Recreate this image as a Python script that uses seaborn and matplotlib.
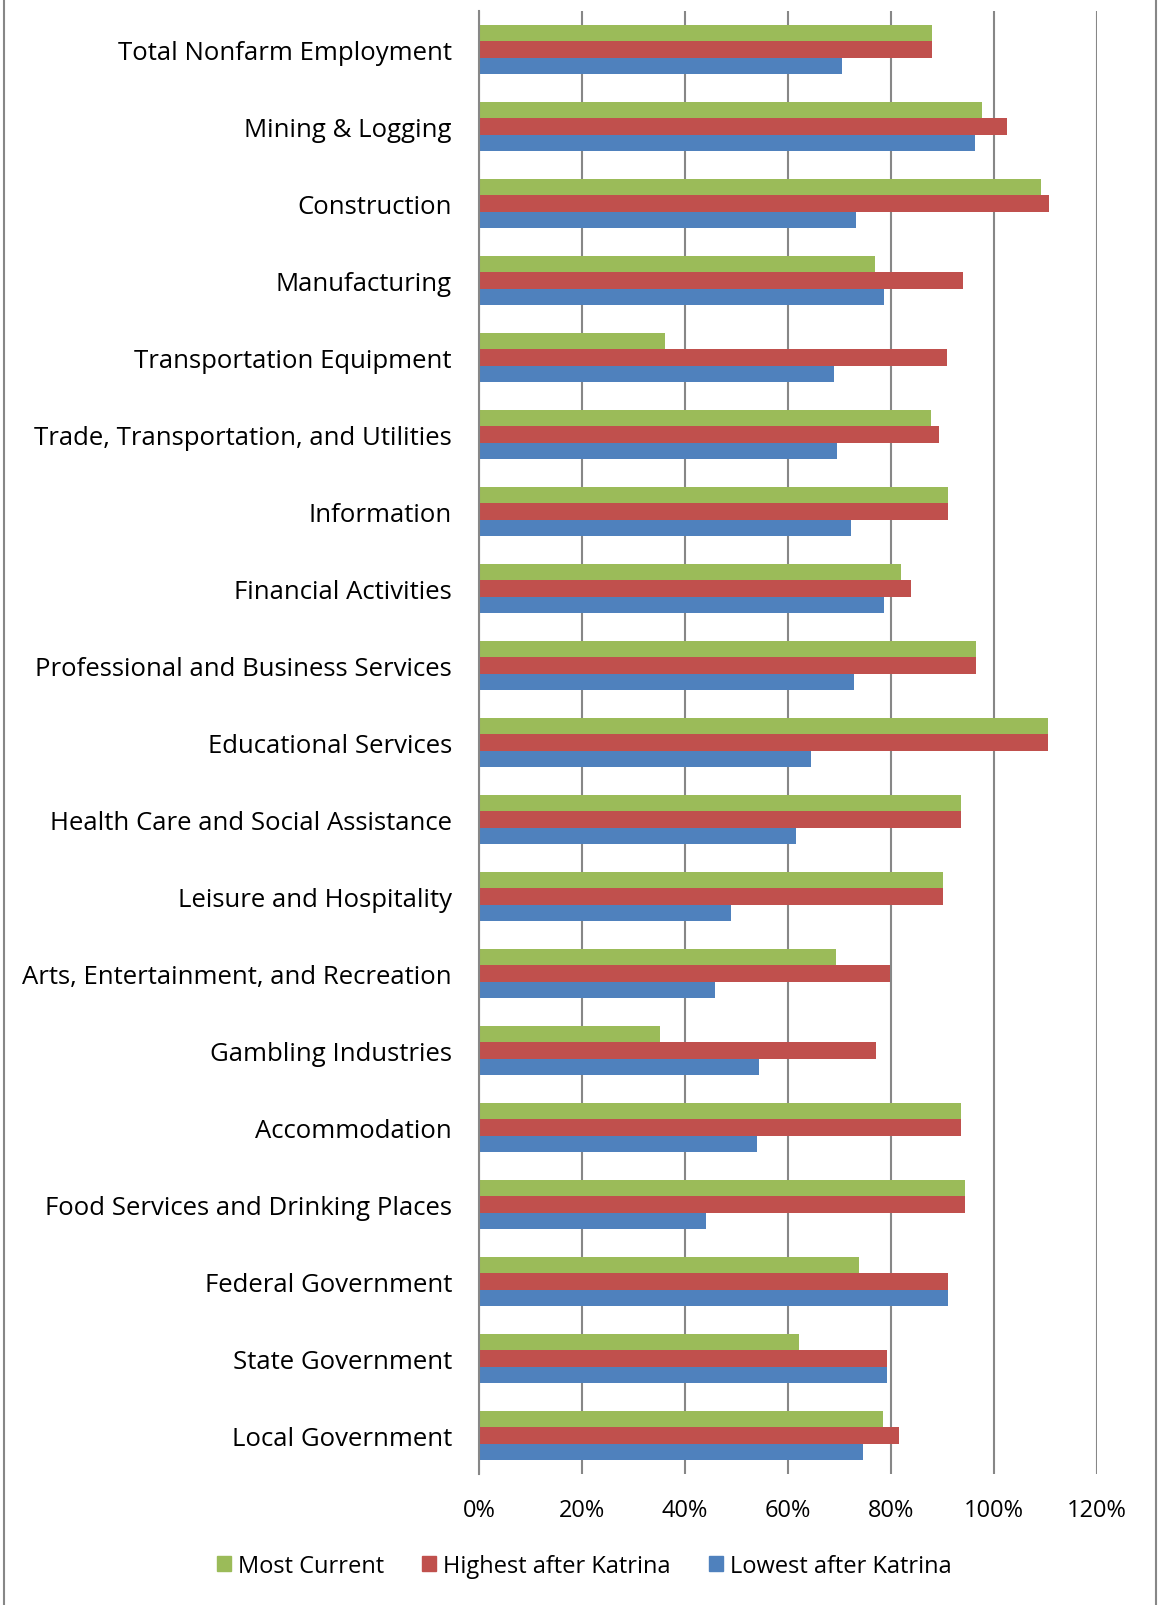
import matplotlib
matplotlib.use('Agg')
import matplotlib.pyplot as plt
import matplotlib.patches as mpatches
import matplotlib.ticker as mticker
import pandas as pd
import seaborn as sns

sns.set_style('white')
plt.rcParams['font.family'] = ['Open Sans', 'DejaVu Sans']
plt.rcParams['text.color'] = 'black'

categories = [
    'Total Nonfarm Employment', 'Mining & Logging', 'Construction', 'Manufacturing',
    'Transportation Equipment', 'Trade, Transportation, and Utilities', 'Information',
    'Financial Activities', 'Professional and Business Services', 'Educational Services',
    'Health Care and Social Assistance', 'Leisure and Hospitality',
    'Arts, Entertainment, and Recreation', 'Gambling Industries', 'Accommodation',
    'Food Services and Drinking Places', 'Federal Government', 'State Government',
    'Local Government',
]
series_names = ['Most Current', 'Highest after Katrina', 'Lowest after Katrina']
most_current = [88.0, 97.6, 109.2, 76.9, 36.1, 87.8, 91.0, 81.9, 96.6, 110.4,
                93.6, 90.0, 69.3, 35.1, 93.6, 94.4, 73.7, 62.2, 78.5]
highest = [88.0, 102.6, 110.6, 94.0, 90.8, 89.4, 91.0, 83.9, 96.6, 110.4,
           93.6, 90.0, 79.9, 77.1, 93.6, 94.4, 91.0, 79.3, 81.5]
lowest = [70.5, 96.4, 73.3, 78.7, 68.9, 69.5, 72.3, 78.7, 72.9, 64.5,
          61.6, 49.0, 45.8, 54.4, 54.0, 44.0, 91.0, 79.3, 74.5]
colors = ['#9BBB59', '#C0504D', '#4F81BD']

rows = []
for name, vals in zip(series_names, [most_current, highest, lowest]):
    for cat, v in zip(categories, vals):
        rows.append({'category': cat, 'series': name, 'value': v})
df = pd.DataFrame(rows)

fig = plt.figure(figsize=(11.59, 16.06), dpi=100)
ax = fig.add_axes([479 / 1159, 1 - 1475 / 1606, 618 / 1159, 1463 / 1606])

sns.barplot(data=df, y='category', x='value', hue='series', order=categories,
            hue_order=series_names, palette=colors, orient='h', width=0.64,
            saturation=1, linewidth=0, ax=ax, legend=False)

ax.set_xlim(0, 120)
ax.xaxis.set_major_locator(mticker.MultipleLocator(20))
ax.xaxis.set_major_formatter(mticker.FuncFormatter(lambda v, p: f'{int(v)}%'))
ax.grid(axis='x', color='#878787', linewidth=1.5)
ax.grid(axis='y', visible=False)
ax.set_axisbelow(True)
for s in ['top', 'right', 'bottom']:
    ax.spines[s].set_visible(False)
ax.spines['left'].set_color('#878787')
ax.spines['left'].set_linewidth(1.5)
ax.tick_params(axis='y', length=0, pad=19.5, labelsize=18.5, labelcolor='black')
ax.tick_params(axis='x', length=0, pad=17, labelsize=17, labelcolor='black')
ax.set_xlabel('')
ax.set_ylabel('')

handles = [mpatches.Patch(color=c, label=n) for c, n in zip(colors, series_names)]
fig.legend(handles=handles, loc='center', bbox_to_anchor=(0.504, 1 - 1567 / 1606),
           ncol=3, frameon=False, fontsize=17, handlelength=0.6, handleheight=0.6,
           handletextpad=0.3, columnspacing=1.6)

# thin gray frame lines at the left and right edges
fig.add_artist(plt.Line2D([4 / 1159, 4 / 1159], [0, 1], color='#878787', linewidth=1.5))
fig.add_artist(plt.Line2D([1156 / 1159, 1156 / 1159], [0, 1], color='#878787', linewidth=1.5))

fig.savefig('out.png', dpi=100)
plt.close(fig)
